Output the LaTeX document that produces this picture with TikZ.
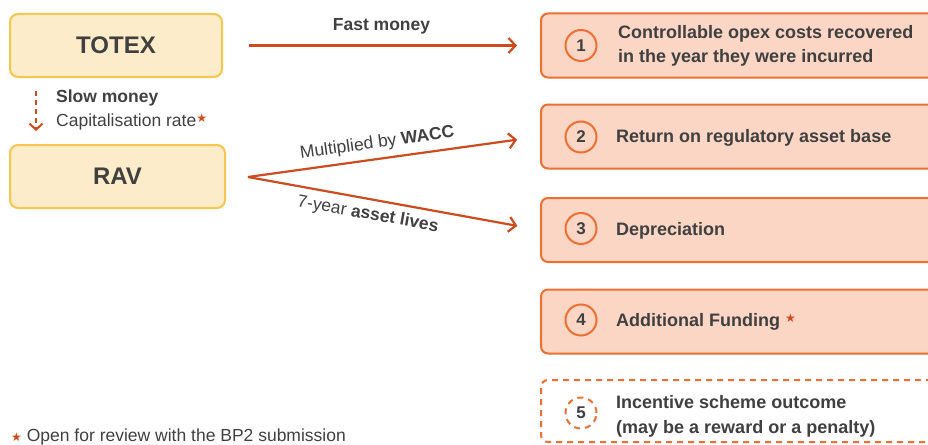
\documentclass[tikz,border=0pt]{standalone}
\usepackage{fontspec}
\setmainfont{Liberation Sans}
\newfontfamily\starfont{DejaVu Sans}
\usetikzlibrary{arrows.meta,positioning}

\definecolor{costfill}{HTML}{FDECC9}
\definecolor{costline}{HTML}{F8C54E}
\definecolor{blockfill}{HTML}{FBD6C5}
\definecolor{blockline}{HTML}{EE6F31}
\definecolor{arrowred}{HTML}{CF4A1D}
\definecolor{textgrey}{HTML}{404040}

\newcommand{\redstar}{{\starfont\fontsize{12}{12}\selectfont\color{arrowred}★}}

\begin{document}
\begin{tikzpicture}[x=1pt, y=-1pt, text=textgrey,
		cost_style/.style={rectangle,rounded corners=8pt,draw=costline,fill=costfill,line width=2pt,minimum width=212pt,minimum height=63pt,font=\fontsize{24}{28}\selectfont\bfseries},
		block_style/.style={rectangle,rounded corners=7pt,draw=blockline,fill=blockfill,line width=2pt,minimum width=420pt,minimum height=64pt,anchor=west},
		num_style/.style={circle,draw=blockline,fill=blockfill,line width=2pt,minimum size=31pt,inner sep=0pt,font=\fontsize{17}{20}\selectfont\bfseries},
		item_style/.style={anchor=west,align=left,inner sep=0pt,font=\fontsize{18}{24}\selectfont\bfseries},
		note_style/.style={anchor=west,inner sep=0pt,font=\fontsize{17.5}{21}\selectfont},
		edge_style/.style={draw=arrowred,line width=2.2pt,-{Straight Barb[length=7pt,width=15pt]}}]

	\useasboundingbox (0,0) rectangle (928,444);

	% cost pots
	\node[cost_style] (totex) at (116,45.5) {TOTEX};
	\node[cost_style,minimum width=215pt] (rav) at (117.5,176.5) {RAV};
	\coordinate (fork) at (248,177);

	% revenue building blocks
	\node[block_style] (b1) at (540,45.5) {};
	\node[block_style] (b2) at (540,136.5) {};
	\node[block_style] (b3) at (540,230) {};
	\node[block_style] (b4) at (540,321.5) {};
	\node[block_style,fill=white,dash pattern=on 6pt off 5pt,minimum height=62pt] (b5) at (540,411) {};

	\node[num_style] (c1) at (581,45.5) {1};
	\node[num_style] (c2) at (581,137) {2};
	\node[num_style] (c3) at (581,228.5) {3};
	\node[num_style] (c4) at (581,320) {4};
	\node[num_style,fill=white,dash pattern=on 6pt off 5pt] (c5) at (581,413) {5};

	\node[item_style] (t1) at (618,45.5) {Controllable opex costs recovered\\in the year they were incurred};
	\node[item_style] (t2) at (616,137.5) {Return on regulatory asset base};
	\node[item_style] (t3) at (616,230.5) {Depreciation};
	\node[item_style] (t4) at (616,321.5) {Additional Funding \raisebox{4pt}{\redstar}};
	\node[item_style,font=\fontsize{18}{25}\selectfont\bfseries] (t5) at (616,416) {Incentive scheme outcome\\(may be a reward or a penalty)};

	% slow money
	\node[note_style,font=\fontsize{17.5}{21}\selectfont\bfseries] (slow) at (56,98) {Slow money};
	\node[note_style] (caprate) at (56,122) {Capitalisation rate\raisebox{4pt}{\redstar}};
	\draw[edge_style,line width=2pt,dash pattern=on 5pt off 4pt,shorten <=13pt,shorten >=13pt,-{Straight Barb[length=6pt,width=13pt]}]
		([xshift=27pt]totex.south west) -- ([xshift=27pt]rav.north west);

	% money flows
	\draw[edge_style,shorten <=26pt,shorten >=23pt] (totex.east) -- node[above=7pt,font=\fontsize{17.5}{21}\selectfont\bfseries]{Fast money} (b1.west);
	\draw[edge_style,shorten >=23pt] (fork) -- node[sloped,above=3pt,pos=0.45,font=\fontsize{17.5}{21}\selectfont]{Multiplied by \textbf{WACC}} (b2.west);
	\draw[edge_style,shorten >=23pt] (fork) -- node[sloped,below=3pt,pos=0.42,font=\fontsize{17.5}{21}\selectfont]{7-year \textbf{asset lives}} (b3.west);

	% footnote
	\node[note_style] (foot) at (11,437) {\raisebox{0.5pt}{\redstar} Open for review with the BP2 submission};
\end{tikzpicture}
\end{document}
